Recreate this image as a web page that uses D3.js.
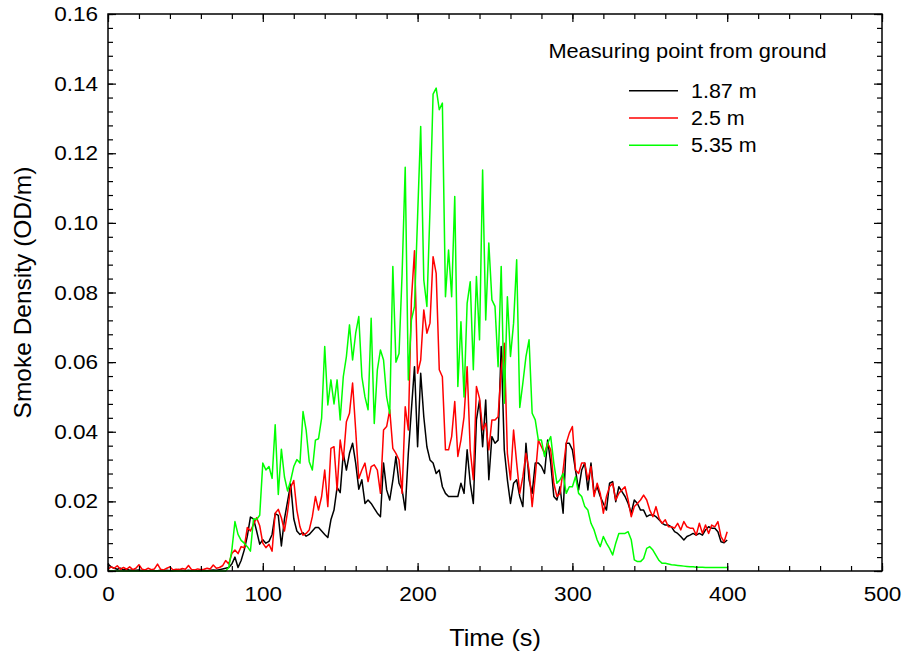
<!DOCTYPE html>
<html lang="en">
<head>
    <meta charset="UTF-8">
    <title>Smoke Density</title>
    <script src="https://d3js.org/d3.v7.min.js"></script>
    <style>
        body { margin: 0; background: #fff; }
        svg text { font-family: "Liberation Sans", Arial, sans-serif; fill: #000; }
        .line { fill: none; stroke-width: 1.5; stroke-linejoin: round; }
    </style>
</head>
<body>
    <div id="chart"></div>
    <script>
    // time grid (s), one sample every 2 s
    var times = d3.range(0, 401, 2);

    // Smoke density (OD/m), t = 0, 2, 4 ... 400
    var h187 = [
        0.002, 0.0012, 0.0008, 0.0005, 0.0008, 0.0003, 0.0005, 0.0002, 0.0003, 0.0002,
        0.0003, 0.0001, 0.0002, 0.0001, 0.0002, 0.0001, 0.0001, 0.0002, 0.0001, 0.0002,
        0.0001, 0.0001, 0.0003, 0.0004, 0.0002, 0.0001, 0.0002, 0.0001, 0.0002, 0.0001,
        0.0001, 0.0002, 0.0001, 0.0002, 0.0003, 0.0002, 0.0004, 0.0006, 0.0008, 0.001,
        0.002, 0.004, 0.001, 0.003, 0.006, 0.010, 0.0155, 0.015, 0.0115, 0.0077,
        0.009, 0.008, 0.0085, 0.0105, 0.0165, 0.016, 0.0072, 0.015, 0.020, 0.025,
        0.015, 0.0115, 0.0105, 0.011, 0.010, 0.0105, 0.0115, 0.0125, 0.0125, 0.0115,
        0.0105, 0.0096, 0.0147, 0.0175, 0.024, 0.0225, 0.0338, 0.029, 0.0338, 0.0367,
        0.031, 0.0235, 0.0262, 0.0194, 0.0204, 0.0194, 0.018, 0.0166, 0.0156, 0.031,
        0.0233, 0.0204, 0.026, 0.0329, 0.0252, 0.0233, 0.0175, 0.0338, 0.0463, 0.0587,
        0.0357, 0.0568, 0.0443, 0.0357, 0.0319, 0.031, 0.028, 0.029, 0.0242, 0.0223,
        0.0214, 0.0214, 0.0214, 0.0214, 0.0252, 0.0223, 0.0348, 0.0252, 0.0194, 0.0434,
        0.0491, 0.0357, 0.0491, 0.0262, 0.0386, 0.0367, 0.0376, 0.0645, 0.0348, 0.0262,
        0.0194, 0.0252, 0.0262, 0.0214, 0.0185, 0.0367, 0.0262, 0.0223, 0.031, 0.031,
        0.030, 0.028, 0.0376, 0.031, 0.0214, 0.0204, 0.0242, 0.0166, 0.0367, 0.0367,
        0.0348, 0.029, 0.0233, 0.029, 0.031, 0.0233, 0.031, 0.0223, 0.0242, 0.0214,
        0.0194, 0.0175, 0.0252, 0.0257, 0.0199, 0.0242, 0.0228, 0.0214, 0.0194, 0.0166,
        0.0204, 0.0194, 0.0175, 0.0175, 0.0156, 0.0161, 0.0161, 0.0156, 0.0147, 0.0137,
        0.0132, 0.0132, 0.0127, 0.0113, 0.0108, 0.0099, 0.0089, 0.0099, 0.0103, 0.0108,
        0.0103, 0.0108, 0.0103, 0.0118, 0.0127, 0.0123, 0.0123, 0.0113, 0.0084, 0.0081,
        0.0089
    ];

    var h25 = [
        0.0005, 0.0012, 0.0008, 0.0015, 0.0005, 0.001, 0.0005, 0.0012, 0.0004, 0.0008,
        0.0018, 0.0005, 0.0003, 0.0008, 0.0004, 0.0006, 0.002, 0.0005, 0.0003, 0.0008,
        0.0012, 0.0003, 0.0005, 0.0004, 0.0007, 0.0005, 0.0016, 0.0004, 0.0003, 0.0006,
        0.0004, 0.0005, 0.0008, 0.0006, 0.0017, 0.0008, 0.001, 0.0015, 0.003, 0.002,
        0.005, 0.006, 0.005, 0.007, 0.0067, 0.0125, 0.0115, 0.0134, 0.0153, 0.013,
        0.008, 0.0067, 0.0077, 0.0057, 0.0166, 0.0177, 0.0153, 0.0115, 0.017, 0.024,
        0.026, 0.0175, 0.0127, 0.0103, 0.0108, 0.0118, 0.0156, 0.0214, 0.0175, 0.0214,
        0.029, 0.0185, 0.0352, 0.0357, 0.0233, 0.0376, 0.0319, 0.0429, 0.0453, 0.054,
        0.0405, 0.0266, 0.029, 0.031, 0.0257, 0.030, 0.0305, 0.029, 0.0223, 0.0405,
        0.0415, 0.0463, 0.0352, 0.0338, 0.0319, 0.0223, 0.0472, 0.0405, 0.0779, 0.092,
        0.0568, 0.0606, 0.075, 0.0683, 0.0712, 0.0903, 0.0855, 0.0578, 0.0558, 0.0348,
        0.0348, 0.0386, 0.0487, 0.0329, 0.0376, 0.0443, 0.0587, 0.0348, 0.0262, 0.053,
        0.0496, 0.0405, 0.0424, 0.0348, 0.0434, 0.0434, 0.0443, 0.0578, 0.0654, 0.0338,
        0.0262, 0.0405, 0.031, 0.0223, 0.0271, 0.0338, 0.029, 0.0185, 0.0271, 0.0376,
        0.0357, 0.0338, 0.0367, 0.0348, 0.0252, 0.0214, 0.0223, 0.029, 0.0367, 0.0396,
        0.0415, 0.029, 0.028, 0.031, 0.031, 0.0262, 0.030, 0.0214, 0.0252, 0.0223,
        0.0166, 0.0214, 0.0242, 0.0252, 0.0204, 0.0223, 0.0233, 0.0242, 0.0204, 0.0156,
        0.0185, 0.0194, 0.0204, 0.0218, 0.0204, 0.0175, 0.0156, 0.0185, 0.0151, 0.0137,
        0.0147, 0.0127, 0.0127, 0.0123, 0.0137, 0.0118, 0.0142, 0.0127, 0.0123, 0.0123,
        0.0103, 0.0137, 0.0108, 0.0132, 0.0108, 0.0132, 0.0127, 0.0142, 0.0099, 0.0084,
        0.0113
    ];

    var h535 = [
        0, 0, 0, 0, 0, 0, 0, 0, 0, 0,
        0, 0, 0, 0, 0, 0, 0, 0, 0, 0,
        0, 0, 0, 0, 0, 0, 0, 0, 0, 0,
        0, 0, 0, 0, 0, 0, 0, 0, 0, 0.001,
        0.006, 0.0142, 0.0105, 0.0088, 0.008, 0.007, 0.0057, 0.015, 0.0148, 0.016,
        0.031, 0.029, 0.030, 0.0266, 0.042, 0.022, 0.035, 0.027, 0.023, 0.026,
        0.030, 0.032, 0.031, 0.0458, 0.0405, 0.0314, 0.029, 0.0376, 0.038, 0.0439,
        0.0645, 0.0477, 0.0549, 0.048, 0.0549, 0.0434, 0.0558, 0.0616, 0.0707, 0.0606,
        0.0683, 0.0731, 0.0558, 0.050, 0.0463, 0.0726, 0.0424, 0.0578, 0.0635, 0.0606,
        0.050, 0.0453, 0.0875, 0.060, 0.0625, 0.0855, 0.116, 0.0549, 0.0721, 0.076,
        0.1018, 0.1277, 0.0836, 0.076, 0.1037, 0.137, 0.1387, 0.1325, 0.1344, 0.0788,
        0.0922, 0.0788, 0.1076, 0.053, 0.0716, 0.050, 0.0769, 0.0831, 0.0578, 0.0846,
        0.0664, 0.1152, 0.0721, 0.0942, 0.0779, 0.076, 0.0587, 0.0875, 0.0482, 0.0788,
        0.0616, 0.0712, 0.0894, 0.047, 0.054, 0.0616, 0.0664, 0.0453, 0.0434, 0.0376,
        0.0376, 0.0329, 0.0367, 0.0386, 0.031, 0.0252, 0.0262, 0.028, 0.0223, 0.0242,
        0.0242, 0.0271, 0.0223, 0.0214, 0.0185, 0.0175, 0.0137, 0.0118, 0.0089, 0.007,
        0.0099, 0.008, 0.0065, 0.0046, 0.008, 0.0108, 0.0108, 0.0108, 0.0113, 0.009,
        0.0032, 0.0027, 0.0027, 0.0036, 0.0065, 0.007, 0.006, 0.0045, 0.003, 0.0022,
        0.0022, 0.002, 0.0018, 0.0017, 0.0016, 0.0015, 0.0014, 0.0013, 0.0012, 0.0012,
        0.0011, 0.0011, 0.0011, 0.001, 0.001, 0.001, 0.001, 0.001, 0.001, 0.001,
        0.001
    ];

    var seriesNames = ["1.87 m", "2.5 m", "5.35 m"];
    var seriesColors = ["#000000", "#ff0000", "#00ff00"];
    var seriesValues = [h187, h25, h535];

    var xTicks = [0, 100, 200, 300, 400, 500];
    var xMinor = d3.range(0, 501, 20);
    var yTicks = [0, 0.02, 0.04, 0.06, 0.08, 0.10, 0.12, 0.14, 0.16];
    var yMinor = d3.range(0, 0.1601, 0.004);

    var width = 905,
        height = 661,
        plotL = 108, plotR = 882, plotT = 14, plotB = 571,
        stretch = 1.1;  // text in the picture is a bit wider than plain Arial

    var svg = d3.select("#chart").append("svg")
        .attr("width", width)
        .attr("height", height);

    var x = d3.scaleLinear().domain([0, 500]).range([plotL, plotR]);
    var y = d3.scaleLinear().domain([0, 0.16]).range([plotB, plotT]);

    // lines: black, then red, then green on top
    var line = d3.line()
        .x(function(d) { return x(d[0]); })
        .y(function(d) { return y(d[1]); });

    seriesValues.forEach(function(vals, i) {
        svg.append("path")
            .datum(times.map(function(t, j) { return [t, vals[j]]; }))
            .attr("class", "line")
            .attr("stroke", seriesColors[i])
            .attr("d", line);
    });

    // ticks (all pointing inwards)
    function minorAxis(axis, scale, vals, pos) {
        svg.append("g")
            .attr("transform", pos)
            .call(axis(scale).tickValues(vals).tickSize(-5).tickFormat(""))
            .call(function(g) { g.select(".domain").remove(); });
    }
    minorAxis(d3.axisBottom, x, xMinor, "translate(0," + plotB + ")");
    minorAxis(d3.axisTop, x, xMinor, "translate(0," + plotT + ")");
    minorAxis(d3.axisLeft, y, yMinor, "translate(" + plotL + ",0)");
    minorAxis(d3.axisRight, y, yMinor, "translate(" + plotR + ",0)");

    var xAxis = svg.append("g")
        .attr("transform", "translate(0," + plotB + ")")
        .call(d3.axisBottom(x).tickValues(xTicks).tickSize(-8).tickPadding(15)
            .tickFormat(d3.format("d")));
    var yAxis = svg.append("g")
        .attr("transform", "translate(" + plotL + ",0)")
        .call(d3.axisLeft(y).tickValues(yTicks).tickSize(-8).tickPadding(9)
            .tickFormat(d3.format(".2f")));
    svg.append("g")
        .attr("transform", "translate(0," + plotT + ")")
        .call(d3.axisTop(x).tickValues(xTicks).tickSize(-8).tickFormat(""));
    svg.append("g")
        .attr("transform", "translate(" + plotR + ",0)")
        .call(d3.axisRight(y).tickValues(yTicks).tickSize(-8).tickFormat(""));

    svg.selectAll(".tick line").attr("stroke", "#000").attr("stroke-width", 1.2);
    svg.selectAll(".domain").remove();

    [xAxis, yAxis].forEach(function(a) {
        a.selectAll("text")
            .attr("font-size", "20.5px")
            .attr("font-family", "'Liberation Sans', Arial, sans-serif")
            .attr("fill", "#000")
            .attr("transform", "scale(" + stretch + ",1)");
    });

    // frame
    svg.append("rect")
        .attr("x", plotL).attr("y", plotT)
        .attr("width", plotR - plotL).attr("height", plotB - plotT)
        .attr("fill", "none").attr("stroke", "#000").attr("stroke-width", 1.5);

    // axis titles
    svg.append("text")
        .attr("transform", "translate(" + (plotL + plotR) / 2 + ",646) scale(" + stretch + ",1)")
        .attr("text-anchor", "middle")
        .attr("font-size", "23px")
        .text("Time (s)");

    svg.append("text")
        .attr("transform", "translate(31," + (plotT + plotB) / 2 + ") rotate(-90)")
        .attr("text-anchor", "middle")
        .attr("font-size", "24.5px")
        .text("Smoke Density (OD/m)");

    // legend
    svg.append("text")
        .attr("transform", "translate(687.5,57.5) scale(" + stretch + ",1)")
        .attr("text-anchor", "middle")
        .attr("font-size", "19.8px")
        .text("Measuring point from ground");

    var legend = svg.append("g").selectAll("g")
        .data(seriesNames)
        .enter().append("g")
        .attr("transform", function(d, i) { return "translate(629," + (90.7 + i * 27.3) + ")"; });

    legend.append("line")
        .attr("x1", 0).attr("x2", 49)
        .attr("stroke", function(d, i) { return seriesColors[i]; })
        .attr("stroke-width", 1.5);

    legend.append("text")
        .attr("transform", "translate(62,7) scale(" + stretch + ",1)")
        .attr("font-size", "19.5px")
        .text(function(d) { return d; });
    </script>
</body>
</html>
